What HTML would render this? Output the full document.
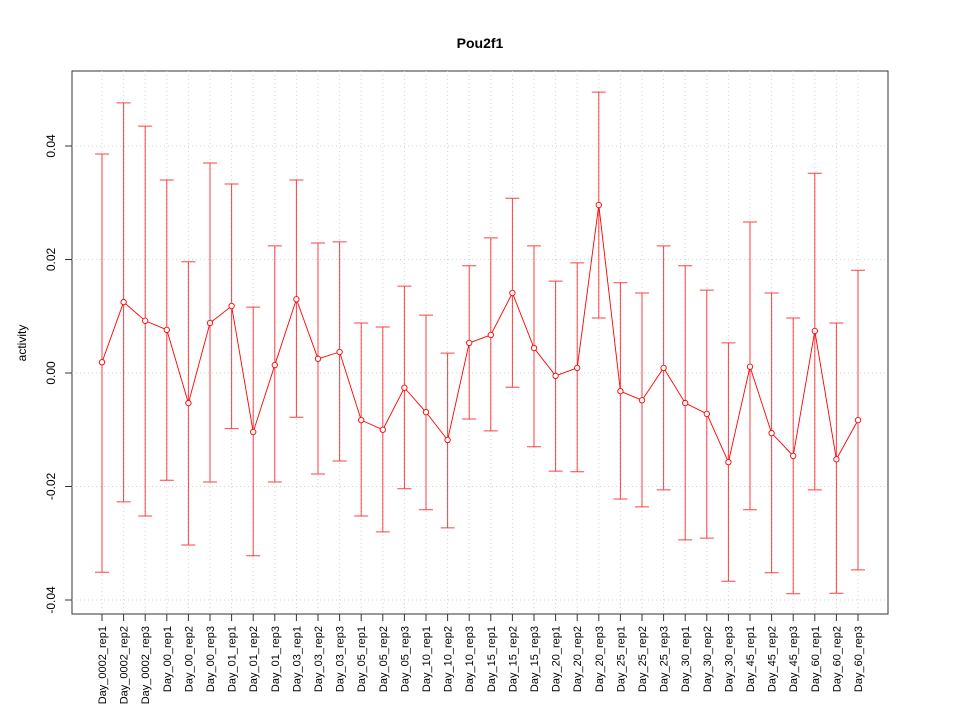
<!DOCTYPE html>
<html><head><meta charset="utf-8"><style>
html,body{margin:0;padding:0;background:#fff;}
svg{display:block;font-family:"Liberation Sans",Arial,sans-serif;}
</style></head><body>
<svg id="chart" width="960" height="720">
<text x="480" y="48" text-anchor="middle" font-size="14" font-weight="bold">Pou2f1</text>
<rect x="72" y="71" width="816" height="543" fill="none" stroke="#333"/>
<text transform="translate(26,343) rotate(-90)" text-anchor="middle" font-size="12">activity</text>
<g id="grid"></g><g id="yaxis"></g><g id="xaxis"></g><g id="marks"></g>
</svg>
<script>
const categories=["Day_0002_rep1","Day_0002_rep2","Day_0002_rep3","Day_00_rep1","Day_00_rep2","Day_00_rep3","Day_01_rep1","Day_01_rep2","Day_01_rep3","Day_03_rep1","Day_03_rep2","Day_03_rep3","Day_05_rep1","Day_05_rep2","Day_05_rep3","Day_10_rep1","Day_10_rep2","Day_10_rep3","Day_15_rep1","Day_15_rep2","Day_15_rep3","Day_20_rep1","Day_20_rep2","Day_20_rep3","Day_25_rep1","Day_25_rep2","Day_25_rep3","Day_30_rep1","Day_30_rep2","Day_30_rep3","Day_45_rep1","Day_45_rep2","Day_45_rep3","Day_60_rep1","Day_60_rep2","Day_60_rep3"];
const values=[0.0019,0.0125,0.0092,0.0076,-0.0053,0.0088,0.0118,-0.0104,0.0014,0.0130,0.0025,0.0037,-0.0083,-0.0100,-0.0026,-0.0069,-0.0118,0.0053,0.0067,0.0141,0.0044,-0.0005,0.0009,0.0296,-0.0032,-0.0048,0.0009,-0.0053,-0.0072,-0.0157,0.0011,-0.0106,-0.0146,0.0074,-0.0152,-0.0083];
const upper=[0.0386,0.0476,0.0435,0.0340,0.0196,0.0370,0.0333,0.0116,0.0224,0.0340,0.0229,0.0231,0.0088,0.0081,0.0153,0.0102,0.0035,0.0189,0.0238,0.0308,0.0224,0.0162,0.0194,0.0495,0.0159,0.0141,0.0224,0.0189,0.0146,0.0053,0.0266,0.0141,0.0097,0.0352,0.0088,0.0181];
const lower=[-0.0351,-0.0227,-0.0252,-0.0189,-0.0303,-0.0192,-0.0098,-0.0322,-0.0192,-0.0078,-0.0178,-0.0155,-0.0252,-0.0280,-0.0204,-0.0241,-0.0273,-0.0081,-0.0102,-0.0025,-0.0130,-0.0173,-0.0174,0.0097,-0.0222,-0.0236,-0.0206,-0.0294,-0.0291,-0.0367,-0.0241,-0.0352,-0.0389,-0.0206,-0.0388,-0.0347];
const yTicks=[-0.04,-0.02,0,0.02,0.04];
const yTickLabels=["-0.04","-0.02","0.00","0.02","0.04"];
const NS="http://www.w3.org/2000/svg";
function yS(v){return 373-v*5675;}
function xS(i){return 102+i*(756/(categories.length-1));}
function mk(parent,tag,attrs){const e=document.createElementNS(NS,tag);for(const k in attrs)e.setAttribute(k,attrs[k]);document.getElementById(parent).appendChild(e);return e;}
categories.forEach((c,i)=>{
 const g=mk("grid","line",{x1:xS(i),x2:xS(i),y1:71,y2:614,stroke:"#d3d3d3","stroke-dasharray":"1,3"});
 
 
 const t=mk("xaxis","line",{x1:xS(i),x2:xS(i),y1:614,y2:621,stroke:"#333"});
 
 
 const l=mk("xaxis","text",{transform:`translate(${xS(i)+4},626) rotate(-90)`,"text-anchor":"end","font-size":"11"});
 l.textContent=c;
 
 
});
yTicks.forEach((v,i)=>{
 const g=mk("grid","line",{x1:72,x2:888,y1:yS(v),y2:yS(v),stroke:"#d3d3d3","stroke-dasharray":"1,3"});
 
 
 const t=mk("yaxis","line",{x1:65,x2:72,y1:yS(v),y2:yS(v),stroke:"#333"});
 
 
 const l=mk("yaxis","text",{transform:`translate(55,${yS(v)}) rotate(-90)`,"text-anchor":"middle","font-size":"12"});
 l.textContent=yTickLabels[i];
 
 
});
values.forEach((v,i)=>{
 const x=xS(i);
 const e=mk("marks","path",{d:`M${x},${yS(upper[i])}V${yS(lower[i])}M${x-7},${yS(upper[i])}H${x+7}M${x-7},${yS(lower[i])}H${x+7}`,stroke:"#ff0000","stroke-opacity":"0.75",fill:"none","stroke-width":"1"});
 
 
});
const line=mk("marks","polyline",{points:values.map((v,i)=>xS(i)+","+yS(v)).join(" "),fill:"none",stroke:"#ff0000","stroke-width":"0.9"});


values.forEach((v,i)=>{
 const p=mk("marks","circle",{cx:xS(i),cy:yS(v),r:2.7,fill:"#fff",stroke:"#ff0000","stroke-width":"0.9"});
 
 
});
</script>
</body></html>
